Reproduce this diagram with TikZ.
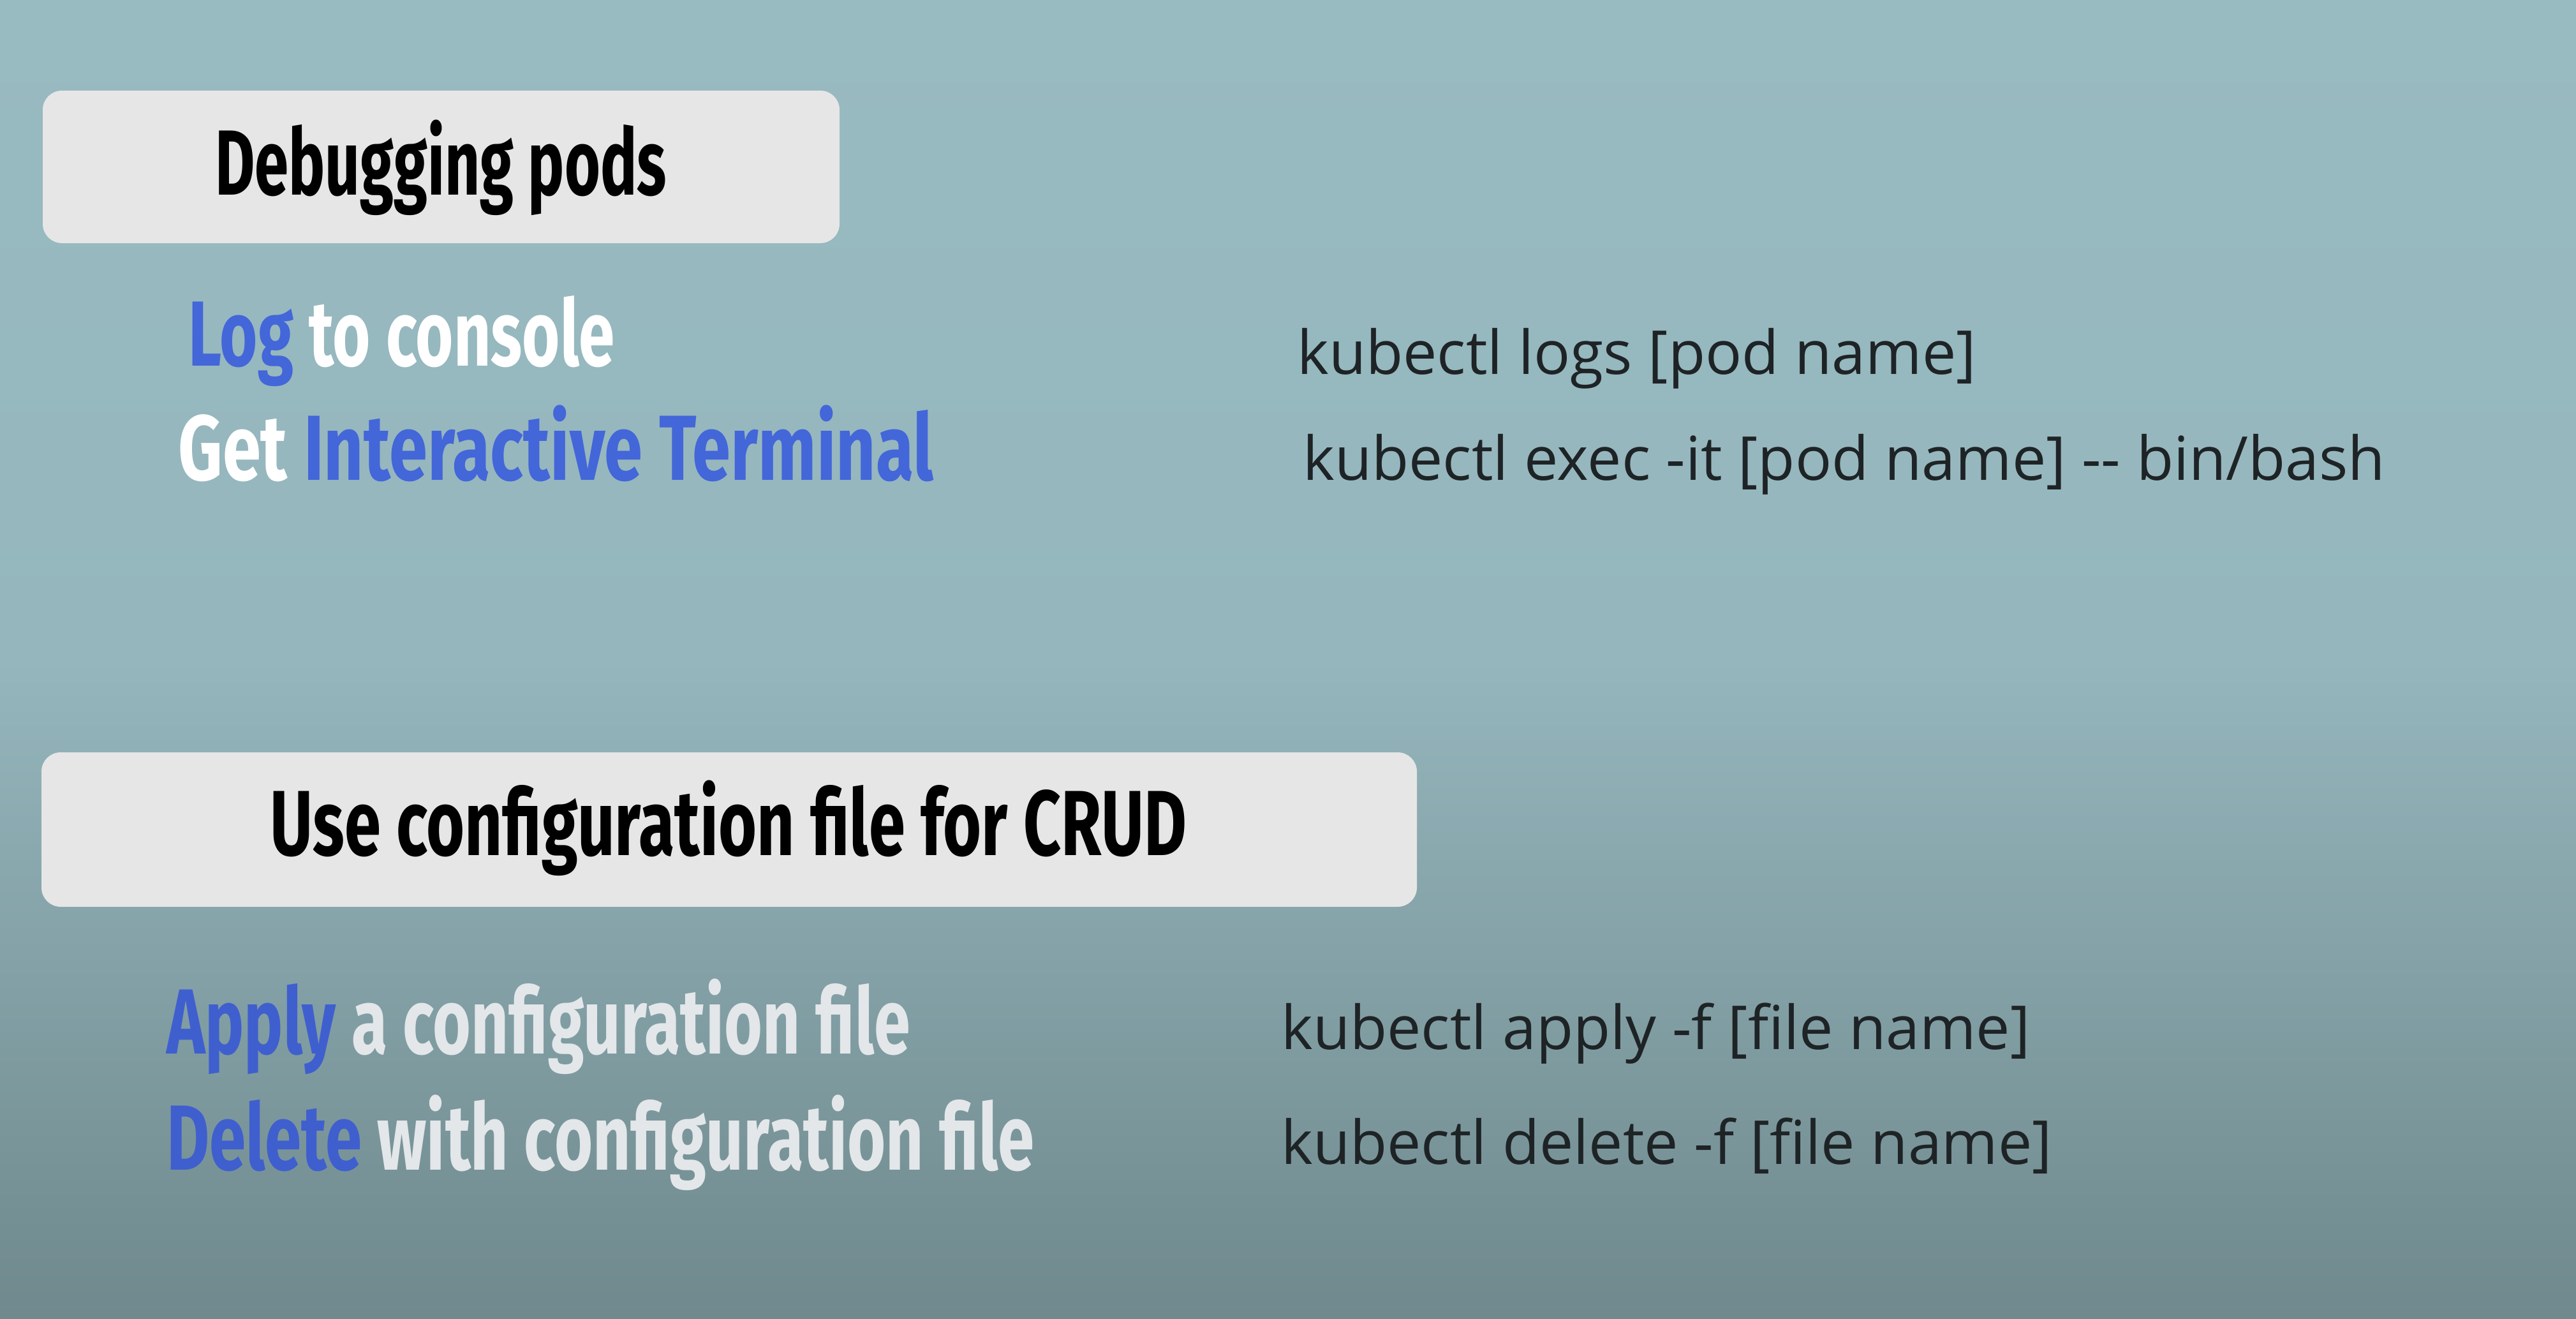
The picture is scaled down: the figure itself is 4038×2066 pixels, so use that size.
\documentclass[tikz,border=0pt]{standalone}
\usepackage{fontspec}
\usepackage{graphicx}
\newfontfamily\handfont[FakeStretch=0.69]{Fira Sans}
\newfontfamily\cmdfont{Open Sans}
\definecolor{bgtop}{HTML}{98BAC1}
\definecolor{bgmid}{HTML}{95B6BD}
\definecolor{bgbot}{HTML}{6F898D}
\definecolor{boxfill}{HTML}{E6E6E6}
\definecolor{hblue}{HTML}{4366D9}
\definecolor{hbluedark}{HTML}{3F5FCF}
\definecolor{cmdcol}{HTML}{1E2326}
\definecolor{softwhite}{HTML}{E3E7E9}
\pgfdeclareverticalshading{bgshade}{100bp}{color(0bp)=(bgbot); color(25bp)=(bgbot); color(50bp)=(bgmid); color(75bp)=(bgtop); color(100bp)=(bgtop)}
\begin{document}
\begin{tikzpicture}[x=1pt,y=-1pt,
  headbox/.style={fill=boxfill, rounded corners=30pt, inner sep=0pt, draw=none},
  headtxt/.style={inner sep=0pt, font=\handfont\bfseries\fontsize{145pt}{150pt}\selectfont, text=black},
  itemtxt/.style={inner sep=0pt, anchor=base west, font=\handfont\bfseries\fontsize{145pt}{150pt}\selectfont},
  cmdtxt/.style={inner sep=0pt, anchor=base west, font=\cmdfont\fontsize{95pt}{100pt}\selectfont, text=cmdcol}]
\path[shading=bgshade] (0,0) rectangle (4038,2066);
\useasboundingbox (0,0) rectangle (4038,2066);
% section 1
\node[headbox, minimum width=1249pt, minimum height=239pt] (box1) at (691.5,261.5) {};
\node[headtxt, anchor=base] (t1) at (691,305) {\scalebox{0.958}[1]{Debugging pods}};
\node[itemtxt] (i1) at (295,573) {\scalebox{1.016}[1]{\textcolor{hblue}{Log} \textcolor{white}{to console}}};
\node[itemtxt] (i2) at (279,752) {\scalebox{1.082}[1]{\textcolor{white}{Get} \textcolor{hblue}{Interactive Terminal}}};
\node[cmdtxt] (c1) at (2033,586) {kubectl logs [pod name]};
\node[cmdtxt] (c2) at (2042,752) {kubectl exec -it [pod name] -{}- bin/bash};
% section 2
\node[headbox, minimum width=2156pt, minimum height=242pt] (box2) at (1143,1300) {};
\node[headtxt, anchor=base] (t2) at (1142,1340) {\scalebox{1.028}[1]{Use configuration file for CRUD}};
\node[itemtxt] (i3) at (261,1651) {\scalebox{1.025}[1]{\textcolor{hbluedark}{Apply} \textcolor{softwhite}{a configuration file}}};
\node[itemtxt] (i4) at (261,1833) {\scalebox{1.031}[1]{\textcolor{hbluedark}{Delete} \textcolor{softwhite}{with configuration file}}};
\node[cmdtxt] (c3) at (2008,1644) {kubectl apply -f [file name]};
\node[cmdtxt] (c4) at (2008,1824) {kubectl delete -f [file name]};
\end{tikzpicture}
\end{document}
